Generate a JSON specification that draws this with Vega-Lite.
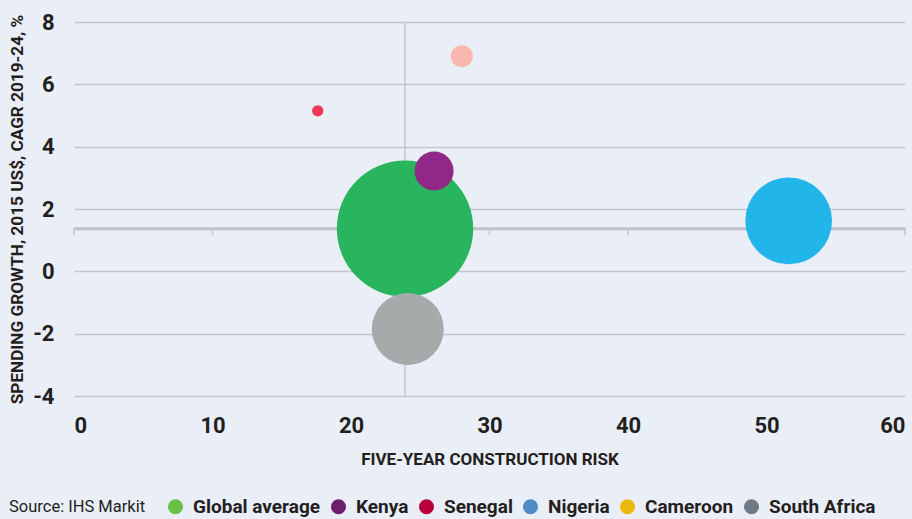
{
  "$schema": "https://vega.github.io/schema/vega-lite/v6.json",
  "width": 831,
  "height": 374,
  "autosize": {"type": "none"},
  "padding": {"left": 74, "top": 22, "right": 7, "bottom": 123},
  "background": "#eaeef7",
  "config": {
    "view": {"stroke": null},
    "font": "Roboto, sans-serif"
  },
  "datasets": {
    "countries": [
      {"country": "Global average", "risk": 23.9, "growth": 1.37, "marketSize": 186},
      {"country": "Kenya", "risk": 26.0, "growth": 3.22, "marketSize": 15.2},
      {"country": "Senegal", "risk": 17.6, "growth": 5.15, "marketSize": 1.28},
      {"country": "Nigeria", "risk": 51.6, "growth": 1.62, "marketSize": 75.2},
      {"country": "Cameroon", "risk": 28.0, "growth": 6.9, "marketSize": 4.84},
      {"country": "South Africa", "risk": 24.1, "growth": -1.85, "marketSize": 51.8}
    ],
    "xticks": [{"risk": 0}, {"risk": 10}, {"risk": 20}, {"risk": 30}, {"risk": 40}, {"risk": 50}, {"risk": 60}]
  },
  "layer": [
    {
      "data": {"name": "countries"},
      "transform": [{"filter": "datum.country === 'Global average'"}],
      "mark": {"type": "rule", "color": "#c4c6cc", "strokeWidth": 1.5},
      "encoding": {
        "x": {
          "field": "risk", "type": "quantitative",
          "scale": {"domain": [0, 60], "nice": false, "zero": false},
          "axis": {
            "values": [0, 10, 20, 30, 40, 50, 60],
            "grid": false, "domain": false, "ticks": false,
            "labelFontSize": 22, "labelFontWeight": "bold", "labelColor": "#231f20",
            "labelPadding": 19,
            "title": "FIVE-YEAR CONSTRUCTION RISK",
            "titleFontSize": 17, "titleFontWeight": "bold", "titleColor": "#231f20",
            "titlePadding": 15
          }
        },
        "y": {
          "datum": 8, "type": "quantitative",
          "scale": {"domain": [-4, 8], "nice": false, "zero": false},
          "axis": {
            "values": [-4, -2, 0, 2, 4, 6, 8],
            "labelExpr": "'' + datum.value",
            "grid": true, "gridColor": "#c3c5cb", "gridWidth": 1.5,
            "domain": false, "ticks": false,
            "labelFontSize": 22, "labelFontWeight": "bold", "labelColor": "#231f20",
            "labelPadding": 20,
            "title": "SPENDING GROWTH, 2015 US$, CAGR 2019-24, %",
            "titleFontSize": 17.2, "titleFontWeight": "bold", "titleColor": "#231f20",
            "titlePadding": 6
          }
        },
        "y2": {"datum": -4}
      }
    },
    {
      "data": {"name": "countries"},
      "transform": [{"filter": "datum.country === 'Global average'"}],
      "mark": {"type": "rule", "color": "#bfc1c7", "strokeWidth": 3},
      "encoding": {
        "x": {"datum": 0, "type": "quantitative"},
        "x2": {"datum": 60},
        "y": {"field": "growth", "type": "quantitative"}
      }
    },
    {
      "data": {"name": "xticks"},
      "mark": {"type": "tick", "orient": "vertical", "color": "#bfc1c7", "size": 7, "thickness": 2, "yOffset": 3},
      "encoding": {
        "x": {"field": "risk", "type": "quantitative"},
        "y": {"datum": 1.37, "type": "quantitative"}
      }
    },
    {
      "data": {"name": "countries"},
      "mark": {"type": "circle", "opacity": 1},
      "encoding": {
        "x": {"field": "risk", "type": "quantitative"},
        "y": {"field": "growth", "type": "quantitative"},
        "size": {
          "field": "marketSize", "type": "quantitative",
          "scale": {"type": "linear", "domain": [0, 186], "range": [0, 18605], "zero": true},
          "legend": null
        },
        "fill": {
          "field": "country", "type": "nominal",
          "scale": {
            "range": ["#f9b8ae", "#29b45e", "#912787", "#21b5e9", "#ee3a5a", "#a5aaab"]
          },
          "legend": null
        }
      }
    },
    {
      "data": {"name": "countries"},
      "mark": {"type": "point", "filled": true, "opacity": 1, "size": 0},
      "encoding": {
        "x": {"field": "risk", "type": "quantitative"},
        "y": {"field": "growth", "type": "quantitative"},
        "color": {
          "field": "country", "type": "nominal",
          "scale": {
            "domain": ["Global average", "Kenya", "Senegal", "Nigeria", "Cameroon", "South Africa"],
            "range": ["#6abf45", "#6d1f6e", "#b8003a", "#508ac8", "#ebb70d", "#6f7a86"]
          },
          "legend": {
            "orient": "none", "legendX": -65, "legendY": 475,
            "direction": "horizontal",
            "title": "Source: IHS Markit",
            "titleOrient": "left", "titleAngle": 0, "titleBaseline": "middle",
            "titleFontSize": 16.5, "titleFontWeight": "normal", "titleColor": "#231f20",
            "titlePadding": 20,
            "symbolType": "circle", "symbolSize": 225, "symbolOpacity": 1, "symbolStrokeWidth": 0,
            "labelFontSize": 19, "labelFontWeight": "bold", "labelColor": "#231f20",
            "labelOffset": 8, "columnPadding": 8, "labelLimit": 300
          }
        }
      }
    }
  ]
}
